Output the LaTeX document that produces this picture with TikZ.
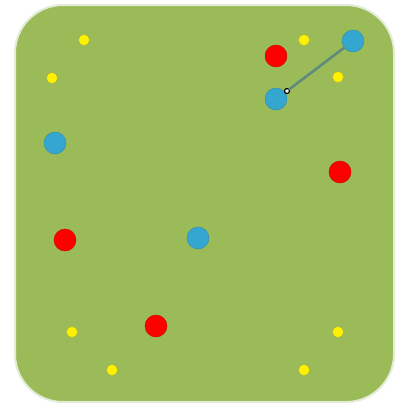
\documentclass[tikz,border=0pt]{standalone}
\usetikzlibrary{arrows.meta}
\definecolor{pitch}{HTML}{9BBB59}
\definecolor{pblue}{HTML}{35A6CF}
\definecolor{pyellow}{HTML}{FFF200}
\definecolor{pred}{HTML}{FF0000}
\definecolor{pline}{HTML}{5F8A80}
\definecolor{rim}{HTML}{E4EBD6}
\tikzset{
  cone/.style={circle,fill=pyellow,draw=yellow!70!black,line width=0.4pt,minimum size=11pt,inner sep=0pt},
  redp/.style={circle,fill=pred,draw=red!80!black,line width=0.4pt,minimum size=22pt,inner sep=0pt},
  bluep/.style={circle,fill=pblue,draw=pblue!85!black,line width=0.4pt,minimum size=22pt,inner sep=0pt},
  ballnode/.style={circle,fill=white,draw=black,line width=1.2pt,minimum size=5pt,inner sep=0pt},
  pass/.style={line width=2.6pt,draw=pline,line cap=round}
}
\begin{document}
\begin{tikzpicture}[x=1pt,y=-1pt]
\useasboundingbox[fill=white] (0,0) rectangle (402,407);
\fill[pitch,draw=rim,line width=2pt,rounded corners=48pt] (15,5) rectangle (394,402);
% cones
\node[cone] (y1) at (84,40) {};
\node[cone] (y2) at (52,78) {};
\node[cone] (y3) at (304,40) {};
\node[cone] (y4) at (338,77) {};
\node[cone] (y5) at (72,332) {};
\node[cone] (y6) at (112,370) {};
\node[cone] (y7) at (338,332) {};
\node[cone] (y8) at (304,370) {};
% red players
\node[redp] (r1) at (276,56) {};
\node[redp] (r2) at (340,172) {};
\node[redp] (r3) at (65,240) {};
\node[redp] (r4) at (156,326) {};
% blue players
\node[bluep] (b1) at (353,41) {};
\node[bluep] (b2) at (276,99) {};
\node[bluep] (b3) at (55,143) {};
\node[bluep] (b4) at (198,238) {};
% ball and pass
\node[ballnode] (ball) at (287,91) {};
\draw[pass] (ball) -- (b1);
\end{tikzpicture}
\end{document}
